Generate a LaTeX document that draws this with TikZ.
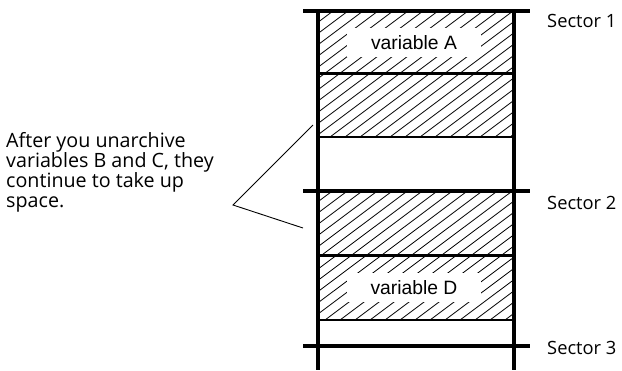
\documentclass[tikz,border=0pt]{standalone}
\usepackage{fontspec}
\newfontfamily\frut{Open Sans}
\newfontfamily\arialf{Liberation Sans}
\begin{document}
\begin{tikzpicture}[x=1pt,y=-1pt,
  thickline/.style={line width=4pt},
  midline/.style={line width=3pt},
  thinline/.style={line width=2pt},
  hatchline/.style={line width=0.8pt},
  varlabel/.style={font=\arialf\fontsize{19.3}{21}\selectfont, inner sep=0pt},
  sectlabel/.style={font=\frut\fontsize{18.3}{20}\selectfont, anchor=west, inner sep=0pt},
  calloutline/.style={line width=0.9pt}]
\useasboundingbox (0,0) rectangle (622,370);
% hatching
\begin{scope}
  \clip (318,11) rectangle (514,137);
  \foreach \a in {150,165,...,520} {
    \draw[hatchline] (\a,137) -- ++(168,-126);
  }
\end{scope}
\begin{scope}
  \clip (318,192) rectangle (514,320);
  \foreach \a in {145,160,...,520} {
    \draw[hatchline] (\a,320) -- ++(171,-128);
  }
\end{scope}
% white label boxes
\fill[white] (347,28) rectangle (481,57);
\fill[white] (347,273) rectangle (481,302);
\node[varlabel] (varA) at (414,43) {variable A};
\node[varlabel] (varD) at (414,288) {variable D};
% horizontal lines
\draw[midline] (318,73) -- (514,73);
\draw[thinline] (318,137) -- (514,137);
\draw[midline] (318,255) -- (514,255);
\draw[thinline] (318,320) -- (514,320);
\draw[thickline] (303,11) -- (530,11);
\draw[thickline] (303,191) -- (530,191);
\draw[thickline] (303,346) -- (530,346);
% verticals
\draw[thickline] (318,9) -- (318,370);
\draw[thickline] (514,9) -- (514,370);
% sector labels
\node[sectlabel] (s1) at (547,21) {Sector 1};
\node[sectlabel] (s2) at (547,203) {Sector 2};
\node[sectlabel] (s3) at (547,348) {Sector 3};
% note text
\node[font=\frut\fontsize{19.7}{19.8}\selectfont, align=left, anchor=north west, inner sep=0pt] (note) at (6,132.5)
  {After you unarchive\\variables B and C, they\\continue to take up\\space.};
% callout
\coordinate (vtx) at (233,205);
\coordinate (upEnd) at (313,125);
\coordinate (loEnd) at (303,228);
\draw[calloutline] (upEnd) -- (vtx) -- (loEnd);
\end{tikzpicture}
\end{document}
